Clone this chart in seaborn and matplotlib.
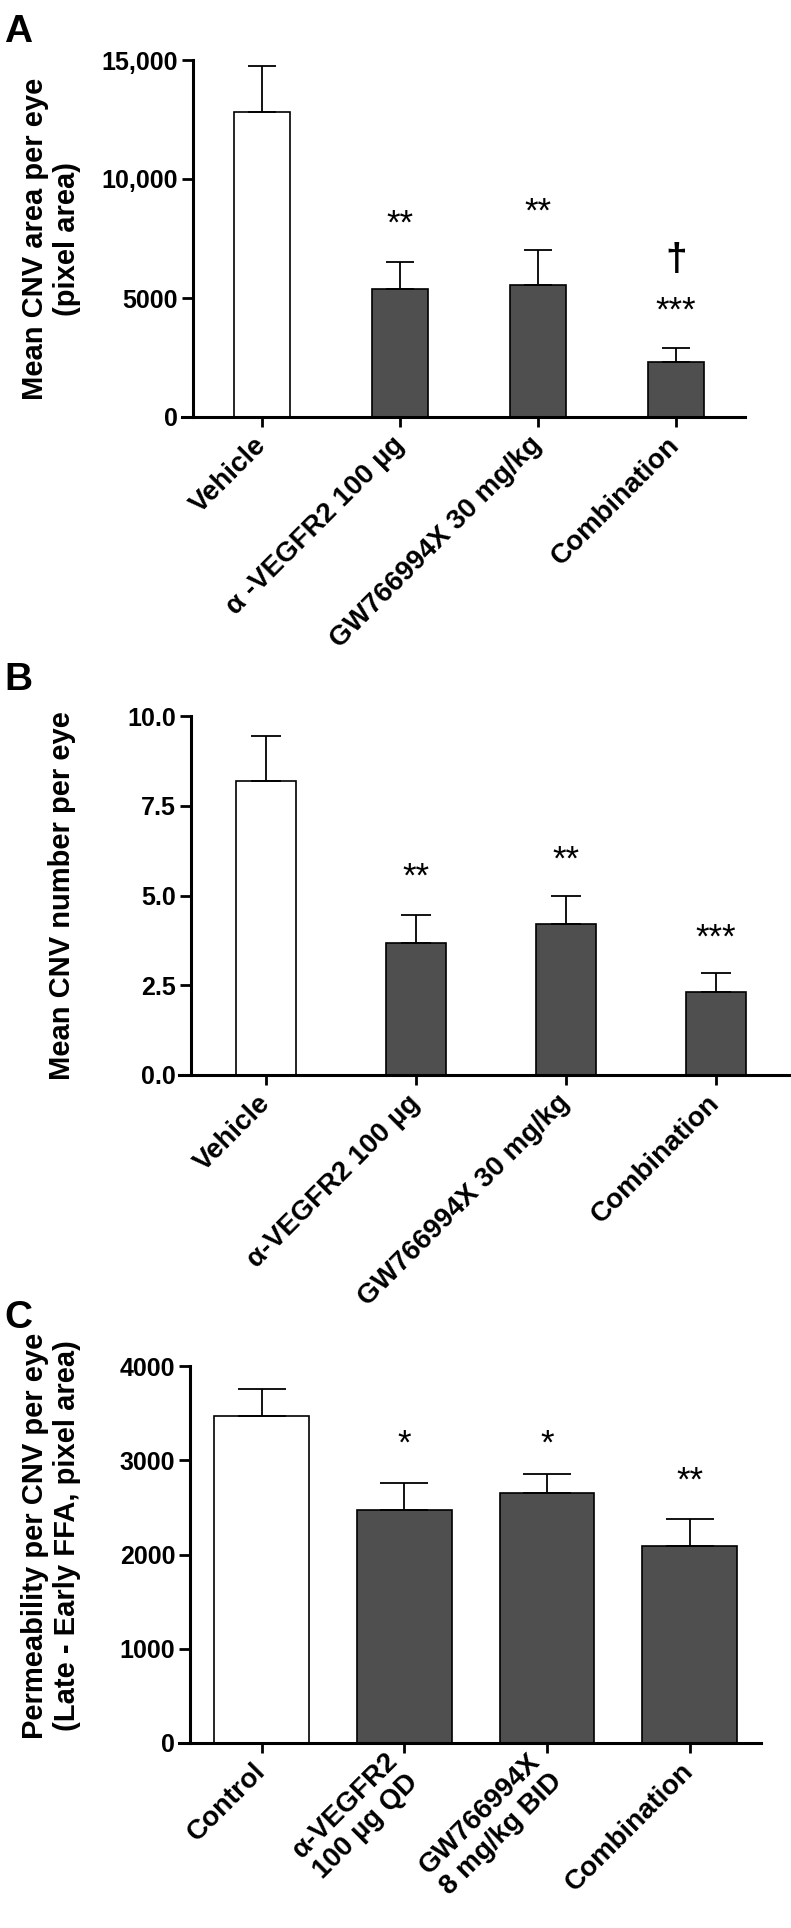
import matplotlib
matplotlib.use("Agg")
import matplotlib.pyplot as plt
import numpy as np
import pandas as pd
import seaborn as sns

W, H = 791, 1928

# Panel A: CNV area
A_GROUPS = ["Vehicle", "α -VEGFR2 100 µg", "GW766994X 30 mg/kg", "Combination"]
A_MEAN = [12800, 5380, 5540, 2330]
A_SEM = [1960, 1140, 1470, 575]
A_STARS = ["", "**", "**", "***"]
A_STAR_Y = [0, 8520, 9010, 4880]
A_DAGGER_Y = 6630
A_TICKS = [0, 5000, 10000, 15000]
A_TICKLABELS = ["0", "5000", "10,000", "15,000"]

# Panel B: CNV number
B_GROUPS = ["Vehicle", "α-VEGFR2 100 µg", "GW766994X 30 mg/kg", "Combination"]
B_MEAN = [8.18, 3.69, 4.20, 2.32]
B_SEM = [1.25, 0.78, 0.80, 0.52]
B_STARS = ["", "**", "**", "***"]
B_STAR_Y = [0, 5.79, 6.27, 4.10]
B_TICKS = [0, 2.5, 5.0, 7.5, 10.0]

# Panel C: permeability
C_GROUPS = ["Control", "α-VEGFR2\n100 µg QD", "GW766994X\n8 mg/kg BID", "Combination"]
C_MEAN = [3470, 2470, 2650, 2095]
C_SEM = [290, 290, 200, 280]
C_STARS = ["", "*", "*", "**"]
C_STAR_Y = [0, 3280, 3280, 2880]
C_TICKS = [0, 1000, 2000, 3000, 4000]

PALETTE = ["white", "#4f4f4f", "#4f4f4f", "#4f4f4f"]

plt.rcParams["font.family"] = ["Liberation Sans", "DejaVu Sans"]


def px_axes(fig, x0, y0, x1, y1):
    return fig.add_axes([x0 / W, 1 - y1 / H, (x1 - x0) / W, (y1 - y0) / H])


def draw_panel(ax, groups, means, sems, width, capsize, ylim, yticks, yticklabels,
               ylabel, label_xy, stars, star_y):
    df = pd.DataFrame({"group": groups, "mean": means})
    sns.barplot(data=df, x="group", y="mean", hue="group", palette=PALETTE,
                saturation=1, width=width, edgecolor="black", linewidth=1.2,
                legend=False, ax=ax)
    ax.errorbar(range(len(groups)), means, yerr=[np.zeros(len(sems)), sems],
                fmt="none", ecolor="black", elinewidth=1.3, capsize=capsize,
                capthick=1.3)
    for i, (s, y) in enumerate(zip(stars, star_y)):
        if s:
            ax.annotate(s, xy=(i, y), xytext=(0, -14), textcoords="offset points",
                        ha="center", va="baseline", fontsize=25)

    # spine placement first: moving a spine resets the ticks
    ax.spines["top"].set_visible(False)
    ax.spines["right"].set_visible(False)
    ax.spines["left"].set_position(("data", -0.5))
    for sp in ["left", "bottom"]:
        ax.spines[sp].set_linewidth(2.2)

    ax.set_xlim(-0.58, 3.5)
    ax.set_ylim(*ylim)
    ax.tick_params(axis="y", length=8, width=2, pad=3, labelsize=18)
    ax.tick_params(axis="x", length=7.5, width=2, pad=10, labelsize=20)
    ax.set_yticks(yticks)
    ax.set_yticklabels(yticklabels, fontsize=18, fontweight="bold")
    ax.set_xticks(range(len(groups)))
    ax.set_xticklabels(groups, rotation=45, ha="right", va="center",
                       rotation_mode="anchor", fontsize=20, fontweight="bold")
    for lab in ax.get_xticklabels():
        lab.set_multialignment("center")
    ax.set_xlabel("")
    ax.set_ylabel(ylabel, fontsize=21, fontweight="bold")
    ax.yaxis.set_label_coords(*label_xy)


fig = plt.figure(figsize=(W / 100, H / 100), dpi=100)

axA = px_axes(fig, 182, 60, 745, 417)
draw_panel(axA, A_GROUPS, A_MEAN, A_SEM, 0.41, 10, (0, 15000), A_TICKS, A_TICKLABELS,
           "Mean CNV area per eye\n(pixel area)", ((81 - 182) / 563, 0.5),
           A_STARS, A_STAR_Y)
axA.annotate("†", xy=(3, A_DAGGER_Y), xytext=(0, -7.5), textcoords="offset points",
             ha="center", va="baseline", fontsize=28, fontweight="bold")

axB = px_axes(fig, 179, 716, 791, 1075)
draw_panel(axB, B_GROUPS, B_MEAN, B_SEM, 0.40, 10.8, (0, 10), B_TICKS,
           [f"{t:.1f}" for t in B_TICKS], "Mean CNV number per eye",
           ((76 - 179) / 612, 0.5), B_STARS, B_STAR_Y)

axC = px_axes(fig, 179, 1366, 761, 1743)
draw_panel(axC, C_GROUPS, C_MEAN, C_SEM, 0.665, 17.3, (0, 4000), C_TICKS,
           [str(t) for t in C_TICKS],
           "Permeability per CNV per eye\n(Late - Early FFA, pixel area)",
           ((81 - 179) / 582, 0.55), C_STARS, C_STAR_Y)

for letter, base in [("A", 42), ("B", 690), ("C", 1328)]:
    fig.text(4 / W, 1 - base / H, letter, fontsize=28, fontweight="bold",
             va="baseline", ha="left")

fig.savefig("out.png", dpi=100)
